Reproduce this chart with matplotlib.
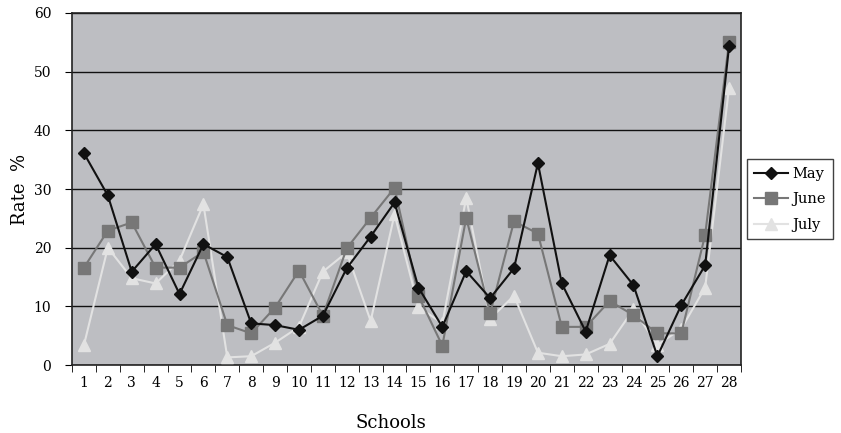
import numpy as np
import matplotlib.pyplot as plt

# Monthly rate (%) per school
schools = list(range(1, 29))
may = [36.1, 28.9, 15.9, 20.6, 12.1, 20.6, 18.4, 7.1, 6.8, 6.0,
       8.4, 16.5, 21.9, 27.7, 13.2, 6.5, 16.0, 11.4, 16.5, 34.4,
       13.9, 5.7, 18.7, 13.6, 1.5, 10.2, 17.0, 54.3]
june = [16.6, 22.9, 24.3, 16.6, 16.6, 19.3, 6.8, 5.4, 9.8, 16.1,
        8.4, 19.9, 25.1, 30.2, 11.8, 3.3, 25.1, 8.8, 24.5, 22.4,
        6.5, 6.5, 10.9, 8.5, 5.4, 5.4, 22.2, 55.1]
july = [3.4, 20.0, 14.8, 13.9, 17.8, 27.4, 1.3, 1.5, 3.8, 6.5,
        15.9, 19.2, 7.5, 25.7, 9.9, 7.1, 28.5, 7.9, 11.8, 2.1,
        1.5, 1.8, 3.6, 9.5, 3.4, 6.2, 13.2, 47.3]

plt.rcParams['font.family'] = ['DejaVu Serif']

fig = plt.figure(figsize=(8.41, 4.33), dpi=100)
ax = fig.add_axes([0.0856, 0.157, 0.7955, 0.813])
ax.set_facecolor('#bdbec2')

ax.plot(schools, may, color='#111111', marker='D', markersize=6, lw=1.5,
        label='May', zorder=5)
ax.plot(schools, june, color='#777777', marker='s', markersize=8, lw=1.5,
        label='June', zorder=4)
ax.plot(schools, july, color='#e2e2e2', marker='^', markersize=8, lw=1.5,
        label='July', zorder=3)

ax.set_xlim(0.5, 28.5)
ax.set_ylim(0, 60)
ax.set_yticks(np.arange(0, 61, 10))
ax.yaxis.grid(True, color='#111111', lw=1)
ax.set_axisbelow(True)

# category axis: labels centred, tick marks between categories
ax.set_xticks(schools)
ax.set_xticks(np.arange(0.5, 29, 1), minor=True)
ax.tick_params(axis='x', which='major', length=0, pad=8)
ax.tick_params(axis='x', which='minor', length=5, direction='out')
ax.tick_params(axis='y', length=5, direction='out', pad=10)
ax.tick_params(labelsize=10)

for s in ax.spines.values():
    s.set_color('#222222')
    s.set_linewidth(1.2)

ax.set_xlabel('Schools', fontsize=13)
ax.xaxis.set_label_coords(0.477, -0.138)
ax.set_ylabel('Rate  %', fontsize=13)
ax.yaxis.set_label_coords(-0.064, 0.5)

leg = fig.legend(loc='upper left', bbox_to_anchor=(0.888, 0.632),
                 fontsize=10.5, frameon=True, fancybox=False,
                 borderaxespad=0, handlelength=2.3, labelspacing=0.8,
                 borderpad=0.5, handletextpad=0.3)
leg.get_frame().set_edgecolor('#111111')
leg.get_frame().set_linewidth(1)

fig.savefig('out.png', dpi=100)
